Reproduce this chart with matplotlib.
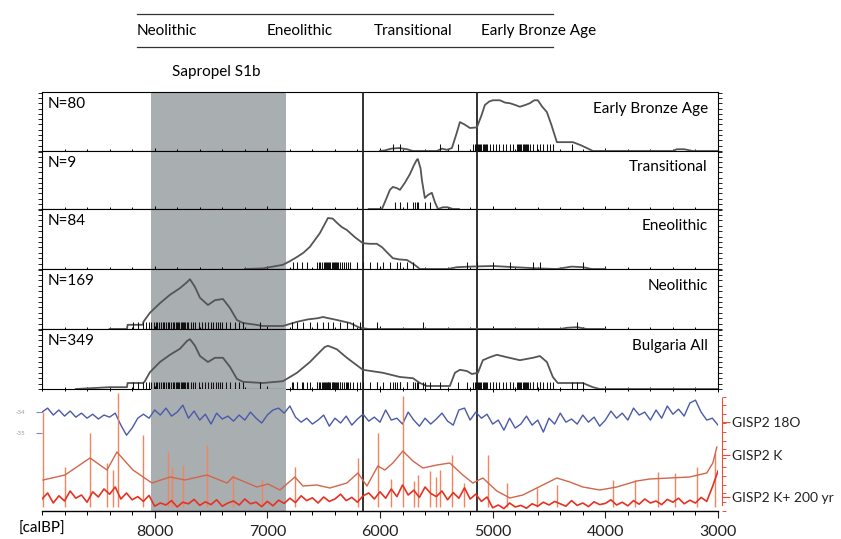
import matplotlib
matplotlib.use("Agg")
import numpy as np
import matplotlib.pyplot as plt
from matplotlib.lines import Line2D
from matplotlib.ticker import MultipleLocator, FixedLocator

plt.rcParams['font.family'] = ['Lato', 'DejaVu Sans']

# ---------------- data ----------------
PERIODS = ["Neolithic", "Eneolithic", "Transitional", "Early Bronze Age"]
PANEL_NAMES = ["Early Bronze Age", "Transitional", "Eneolithic", "Neolithic", "Bulgaria All"]
PANEL_N = [80, 9, 84, 169, 349]
SAPROPEL = (8030, 6830)           # Sapropel S1b, calBP
TRANSITION_LINES = [6150, 5140]   # calBP
X_TICKS = [8000, 7000, 6000, 5000, 4000, 3000]

# summed probability curves (year calBP, relative height)
EBA_CURVE = [(6000, 0), (5957, 0.01), (5900, 0.04), (5830, 0.05), (5760, 0.03), (5708, 0),
             (5495, 0), (5450, 0.04), (5406, 0.02), (5362, 0.05), (5320, 0.3), (5291, 0.49),
             (5250, 0.45), (5202, 0.39), (5140, 0.4), (5100, 0.6), (5069, 0.78), (5030, 0.84),
             (4998, 0.86), (4936, 0.86), (4890, 0.82), (4847, 0.81), (4800, 0.78), (4759, 0.75),
             (4710, 0.78), (4670, 0.81), (4630, 0.86), (4599, 0.86), (4560, 0.75), (4519, 0.66),
             (4480, 0.45), (4430, 0.15), (4380, 0.15), (4288, 0.15), (4220, 0.1), (4164, 0.05),
             (4111, 0), (3400, 0), (3366, 0.03), (3300, 0.03), (3224, 0), (3000, 0)]
TRANS_CURVE = [(6100, 0), (5983, 0), (5950, 0.15), (5912, 0.33), (5886, 0.38), (5850, 0.36),
               (5823, 0.33), (5780, 0.45), (5735, 0.6), (5700, 0.75), (5673, 0.85), (5664, 0.86),
               (5640, 0.7), (5628, 0.5), (5602, 0.19), (5575, 0.24), (5540, 0.28), (5513, 0.12),
               (5486, 0), (5442, 0.03), (5400, 0.03), (5353, 0), (5300, 0)]
ENEO_CURVE = [(7200, 0), (7039, 0.01), (6950, 0.04), (6862, 0.07), (6800, 0.13), (6737, 0.2),
              (6680, 0.27), (6622, 0.37), (6533, 0.6), (6490, 0.75), (6462, 0.85), (6420, 0.84),
              (6382, 0.77), (6340, 0.7), (6294, 0.65), (6223, 0.53), (6152, 0.43), (6090, 0.42),
              (6028, 0.42), (5980, 0.36), (5939, 0.28), (5886, 0.18), (5830, 0.16), (5761, 0.15),
              (5700, 0.08), (5646, 0), (5400, 0), (5318, 0.03), (5200, 0.04), (5000, 0.05),
              (4800, 0.03), (4600, 0.01), (4430, 0), (4300, 0.04), (4200, 0.03), (4120, 0), (4000, 0)]
NEO_CURVE = [(8400, 0), (8246, 0), (8240, 0.07), (8104, 0.07), (8100, 0.12), (8042, 0.27),
             (7953, 0.43), (7864, 0.57), (7776, 0.68), (7713, 0.78), (7687, 0.83), (7642, 0.7),
             (7598, 0.52), (7527, 0.4), (7465, 0.48), (7394, 0.5), (7332, 0.35), (7270, 0.15),
             (7216, 0.1), (7100, 0.07), (7039, 0.05), (6862, 0.05), (6737, 0.12), (6640, 0.16),
             (6551, 0.18), (6507, 0.2), (6382, 0.15), (6267, 0.1), (6178, 0.02), (6100, 0),
             (4400, 0), (4342, 0.02), (4250, 0.03), (4164, 0), (4000, 0)]
ALL_CURVE = [(8700, 0), (8500, 0.02), (8400, 0.03), (8246, 0.03), (8240, 0.1), (8104, 0.1),
             (8090, 0.12), (8042, 0.28), (7953, 0.45), (7864, 0.57), (7776, 0.67), (7713, 0.8),
             (7687, 0.83), (7642, 0.72), (7598, 0.55), (7527, 0.45), (7465, 0.52), (7394, 0.52),
             (7332, 0.37), (7270, 0.17), (7216, 0.12), (7039, 0.1), (6862, 0.13), (6737, 0.27),
             (6622, 0.45), (6533, 0.62), (6490, 0.7), (6462, 0.72), (6420, 0.69), (6382, 0.66),
             (6294, 0.52), (6152, 0.32), (5974, 0.27), (5823, 0.2), (5708, 0.18), (5646, 0.1),
             (5584, 0.05), (5531, 0.05), (5380, 0.05), (5335, 0.27), (5291, 0.32), (5229, 0.3),
             (5185, 0.25), (5131, 0.27), (5087, 0.48), (5025, 0.53), (4963, 0.57), (4874, 0.53),
             (4759, 0.48), (4643, 0.52), (4581, 0.55), (4519, 0.45), (4466, 0.2), (4422, 0.1),
             (4200, 0.1), (4111, 0.03), (4049, 0), (3000, 0)]

# individual radiocarbon dates (rug), calBP
EBA_RUG = [5886, 5823, 5469, 5309, 5176, 5160, 5150, 5140, 5130, 5120, 5110, 5100, 5090, 5080,
           5070, 5060, 5053, 5020, 4998, 4970, 4940, 4910, 4880, 4850, 4821, 4785, 4775, 4765,
           4755, 4745, 4735, 4725, 4715, 4705, 4695, 4685, 4670, 4643, 4610, 4580, 4550, 4520,
           4490, 4466, 4297]
TRANS_RUG = [5868, 5823, 5761, 5708, 5690, 5673, 5664, 5602, 5557]
ENEO_RUG = [6773, 6737, 6693, 6649, 6560, 6545, 6530, 6515, 6500, 6490, 6480, 6470, 6460, 6450,
            6440, 6430, 6420, 6410, 6400, 6390, 6380, 6370, 6355, 6340, 6320, 6300, 6285, 6267,
            6205, 6152, 6090, 6028, 5974, 5912, 5850, 5823, 5761, 5708, 5229, 5140, 4998, 4847,
            4643, 4581, 4200]
NEO_RUG = [8193, 8150, 8104, 8080, 8050, 8030, 8010, 7990, 7975, 7960, 7945, 7930, 7915, 7900,
           7885, 7870, 7855, 7840, 7825, 7810, 7800, 7790, 7780, 7770, 7760, 7750, 7740, 7730,
           7715, 7700, 7680, 7660, 7640, 7610, 7580, 7555, 7530, 7500, 7480, 7460, 7440, 7420,
           7400, 7370, 7330, 7290, 7250, 7216, 7065, 6782, 6737, 6684, 6622, 6560, 6507, 6462,
           6418, 6356, 6294, 6240, 6178, 6028, 5620, 4253]
ALL_RUG = EBA_RUG + TRANS_RUG + ENEO_RUG + NEO_RUG

# GISP2 records, 50-yr steps from 9000 to 3000 calBP
GISP2_YEARS = np.arange(9000, 2999, -50)
D18O = [-34.00, -33.81, -34.14, -33.90, -34.19, -33.95, -34.24,
        -34.05, -34.29, -34.10, -34.33, -34.14, -34.24, -34.05,
        -34.62, -35.10, -34.76, -34.29,
        -34.10, -34.29, -33.90, -34.14, -33.81, -34.19, -34.00, -33.67,
        -34.29, -33.95, -34.38, -34.10, -34.57, -34.05, -34.33, -34.19,
        -34.43, -34.14, -34.38, -34.00, -34.29, -34.52, -34.14, -33.90,
        -33.81, -34.05, -33.71, -34.24, -34.48, -34.29, -34.57, -34.38,
        -34.14, -34.67, -34.29, -34.52, -34.19, -34.62, -34.33, -34.10,
        -34.43, -34.24, -34.48, -33.90, -34.38, -34.29, -34.57, -34.00,
        -34.38, -34.67, -34.29, -34.57, -34.33, -34.05, -34.43, -34.62,
        -33.90, -33.81, -34.38, -34.00, -34.29, -34.10, -34.57, -34.38,
        -34.86, -34.29, -34.76, -34.57, -34.19, -34.62, -34.38, -34.95,
        -34.29, -34.57, -34.05, -34.48, -34.33, -34.57, -34.14, -34.48,
        -34.24, -34.67, -34.38, -33.95, -34.29, -34.05, -34.38, -33.81,
        -34.14, -34.00, -34.38, -33.90, -34.29, -33.71, -34.10, -33.86,
        -34.19, -33.57, -33.43, -34.00, -34.38, -34.29, -34.62]
K_RAW = [3.0, 4.5, 2.0, 3.8, 2.5, 5.0, 3.2, 4.0, 2.2, 4.8,
         3.5, 5.5, 4.2, 6.0, 3.0, 4.5, 2.8, 3.6, 2.4, 3.9,
         1.2, 2.0, 1.5, 2.6, 1.0, 2.2, 1.8, 2.9, 1.4, 2.3,
         1.6, 2.8, 1.2, 2.0, 2.5, 1.5, 3.0, 1.8, 2.2, 1.1,
         2.4, 1.3, 2.7, 1.9, 3.2, 2.1, 3.8, 2.6, 3.3, 2.0,
         3.5, 2.4, 3.0, 4.2, 2.6, 3.4, 2.2, 3.8, 4.5, 3.0,
         4.8, 3.2, 5.5, 3.6, 6.5, 4.0, 5.2, 3.4, 6.0, 4.4,
         3.6, 5.0, 2.8, 4.6, 3.2, 5.8, 3.0, 4.2, 2.4, 3.5,
         0.8, 1.5, 0.6, 2.0, 1.0, 1.4, 0.7, 1.8, 1.2, 2.2,
         1.5, 2.4, 1.8, 1.2, 2.6, 1.4, 2.0, 1.1, 2.3, 1.6,
         1.9, 2.8, 1.5, 2.2, 1.3, 2.6, 1.7, 3.0, 2.0, 2.5,
         1.6, 2.9, 2.2, 3.2, 1.8, 2.7, 2.0, 3.4, 2.4, 6.0,
         10.0]
K_SPIKES = [(8995, 24.75), (8796, 11), (8574, 19.5), (8423, 12), (8370, 10.25), (8326, 29.5),
            (8104, 19), (7882, 14.75), (7847, 10.75), (7749, 11.5), (7536, 16.5), (7305, 9),
            (7048, 7.75), (6755, 11), (6196, 13.25), (6019, 19.5), (5900, 8), (5797, 28.75),
            (5700, 7.5), (5664, 9), (5557, 10), (5500, 8.5), (5469, 10.25), (5362, 14),
            (5250, 7), (5043, 14), (4874, 7), (4608, 5.75), (4430, 6.5), (3934, 7.75),
            (3738, 7.75), (3534, 9.75), (3383, 9.5), (3188, 11), (3028, 14.5)]
K_200YR = [(8991, 7.75), (8796, 9), (8574, 13.25), (8423, 10.25), (8335, 14.75), (8193, 10.25),
           (8024, 7), (7864, 8.5), (7731, 7.75), (7536, 9), (7358, 7), (7305, 8.5), (7092, 6),
           (6995, 6.75), (6888, 5.25), (6755, 8.5), (6684, 6.25), (6560, 6.5), (6445, 5.75),
           (6294, 7), (6196, 9.5), (6116, 6.25), (6019, 11.25), (5957, 10.25), (5886, 12),
           (5797, 15), (5708, 12.5), (5619, 10.75), (5495, 11.5), (5380, 12), (5265, 9),
           (5176, 7), (5087, 8.25), (4963, 5), (4847, 3.25), (4732, 4), (4555, 6.5),
           (4430, 8.25), (4315, 7.25), (4200, 6), (4049, 5.25), (3898, 6), (3721, 7.5),
           (3605, 8), (3428, 8.25), (3251, 8.5), (3100, 9.5), (3046, 12), (3010, 16)]

GISP2_LABELS = ["GISP2 18O", "GISP2 K", "GISP2 K+ 200 yr"]

# ---------------- layout helpers ----------------
W, H = 841, 539
GREY = '#a9aeb1'
FS = 11
fig = plt.figure(figsize=(W / 100, H / 100), dpi=100)


def px_axes(x0, y0, x1, y1):
    return fig.add_axes([x0 / W, 1 - y1 / H, (x1 - x0) / W, (y1 - y0) / H])


# header with the period names
for y in (14, 47):
    fig.add_artist(Line2D([137 / W, 553 / W], [1 - y / H] * 2, color='#333333', lw=0.9))
for name, x in zip(PERIODS, [137, 267, 374, 481]):
    fig.text(x / W, 1 - 31 / H, name, fontsize=FS, va='center', ha='left')
fig.text(172 / W, 1 - 72 / H, "Sapropel S1b", fontsize=FS, va='center', ha='left')

# ---------------- density panels ----------------
rows = [(92, 151), (151, 209), (209, 269), (269, 329), (329, 389)]
curves = [EBA_CURVE, TRANS_CURVE, ENEO_CURVE, NEO_CURVE, ALL_CURVE]
rugs = [EBA_RUG, TRANS_RUG, ENEO_RUG, NEO_RUG, ALL_RUG]

for (y0, y1), name, n, curve, rug in zip(rows, PANEL_NAMES, PANEL_N, curves, rugs):
    ax = px_axes(42, y0, 718, y1)
    ax.set_xlim(9000, 3000)
    ax.set_ylim(0, 1)
    ax.axvspan(*SAPROPEL, color=GREY, lw=0, zorder=0)
    for x in TRANSITION_LINES:
        ax.axvline(x, color='#222222', lw=1.3, zorder=3)
    cx, cy = zip(*curve)
    ax.plot(cx, cy, color='#555555', lw=1.3, zorder=4)
    ax.vlines(rug, 0, 0.12, color='#111111', lw=0.75, zorder=5)
    ax.text(0.009, 0.8, f"N={n}", transform=ax.transAxes, fontsize=FS, va='center', ha='left')
    ax.text(0.985, 0.72, name, transform=ax.transAxes, fontsize=FS, va='center', ha='right')
    ax.xaxis.set_major_locator(FixedLocator(X_TICKS))
    ax.xaxis.set_minor_locator(MultipleLocator(200))
    ax.tick_params(axis='x', which='both', direction='inout', labelbottom=False, width=0.7)
    ax.tick_params(axis='x', which='major', length=5)
    ax.tick_params(axis='x', which='minor', length=3)
    ax.set_yticks([])
    ax.yaxis.set_minor_locator(MultipleLocator(0.09))
    ax.tick_params(axis='y', which='minor', left=True, right=True, direction='out', length=3, width=0.6)
    for sp in ax.spines.values():
        sp.set_linewidth(0.8)

# ---------------- GISP2 panel ----------------
ax_g = px_axes(42, 389, 718, 511)
ax_g.patch.set_alpha(0)
ax_g.set_xlim(9000, 3000)
ax_g.axvspan(*SAPROPEL, color=GREY, lw=0, zorder=0)
for x in TRANSITION_LINES:
    ax_g.axvline(x, color='#222222', lw=1.3, zorder=3)
ax_g.plot(GISP2_YEARS, D18O, color='#4a5aa8', lw=1.0, zorder=4)
ax_g.set_ylim(-38.71, -32.90)
ax_g.set_yticks([-34, -35])
ax_g.set_yticklabels(["-34", "-35"])
ax_g.tick_params(axis='y', length=4, width=0.8, color='#7d88b8', labelsize=4.5,
                 labelcolor='#9a9aa8', pad=8)
for side in ('top', 'left', 'right'):
    ax_g.spines[side].set_visible(False)
ax_g.spines['bottom'].set_linewidth(1.0)
ax_g.xaxis.set_major_locator(FixedLocator(X_TICKS))
ax_g.xaxis.set_minor_locator(MultipleLocator(200))
ax_g.tick_params(axis='x', which='major', length=5, width=0.8, labelsize=11.5, pad=5, colors='#222222')
ax_g.tick_params(axis='x', which='minor', length=3, width=0.7)

ax_k = ax_g.twinx()
ax_k.set_ylim(0, 30.5)
sx, sy = zip(*K_SPIKES)
ax_k.vlines(sx, 1.0, sy, color='#f28460', lw=1.0, zorder=2)
kx, ky = zip(*K_200YR)
ax_k.plot(kx, ky, color='#d2664a', lw=1.0, zorder=3)
ax_k.plot(GISP2_YEARS, K_RAW, color='#e63222', lw=1.2, zorder=4)
for side in ('top', 'left', 'bottom'):
    ax_k.spines[side].set_visible(False)
ax_k.spines['right'].set_position(('outward', 3))
ax_k.spines['right'].set_color('#e8503a')
ax_k.spines['right'].set_bounds(1.5, 28.25)
ax_k.set_yticks([22.25, 14, 3.5])
ax_k.set_yticklabels(GISP2_LABELS)
ax_k.yaxis.set_minor_locator(MultipleLocator(2.2))
ax_k.tick_params(axis='y', which='major', length=6, width=0.8, color='#e8503a',
                 labelsize=10, labelcolor='#222222', pad=1)
ax_k.tick_params(axis='y', which='minor', length=3, width=0.7, color='#e8503a')

fig.text(42 / W, 1 - 529 / H, "[calBP]", fontsize=FS, ha='center', va='center')

fig.savefig("out.png", dpi=100)
